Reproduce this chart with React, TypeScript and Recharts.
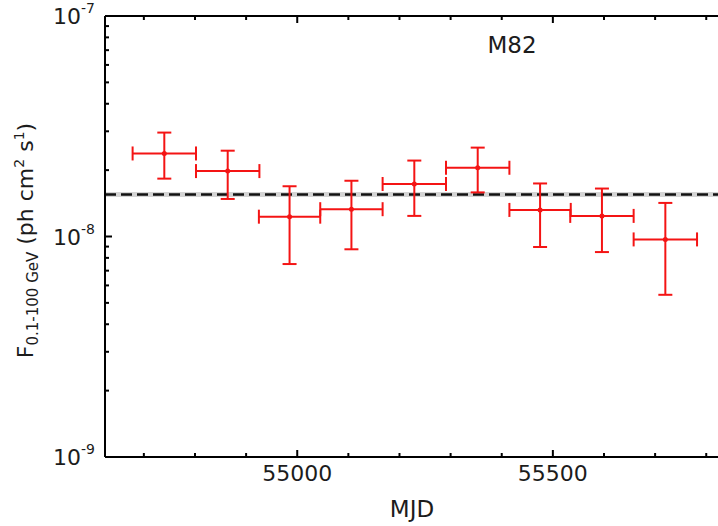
import { ScatterChart, Scatter, XAxis, YAxis, ErrorBar, ReferenceLine } from "recharts"

// light curve bins (MJD centre, half width of the bin)
const MJD = [54740, 54864, 54985, 55106, 55229, 55353, 55475, 55596, 55720]
const MJD_HALF = [62, 62, 60, 61, 62, 62, 60, 62, 62]

// flux F(0.1-100 GeV) in ph cm^-2 s^-1
const FLUX = [2.38e-8, 1.98e-8, 1.23e-8, 1.33e-8, 1.73e-8, 2.05e-8, 1.32e-8, 1.24e-8, 9.7e-9]
const FLUX_HI = [2.96e-8, 2.45e-8, 1.69e-8, 1.79e-8, 2.21e-8, 2.53e-8, 1.74e-8, 1.65e-8, 1.42e-8]
const FLUX_LO = [1.83e-8, 1.48e-8, 7.5e-9, 8.75e-9, 1.24e-8, 1.585e-8, 8.96e-9, 8.5e-9, 5.44e-9]
const MEAN_FLUX = 1.55e-8

const X_TICKS = [54700, 54800, 54900, 55000, 55100, 55200, 55300, 55400, 55500, 55600, 55700, 55800]
const X_LABELED = [55000, 55500]
const Y_TICKS = [
    1e-9, 2e-9, 3e-9, 4e-9, 5e-9, 6e-9, 7e-9, 8e-9, 9e-9,
    1e-8, 2e-8, 3e-8, 4e-8, 5e-8, 6e-8, 7e-8, 8e-8, 9e-8, 1e-7,
]
const Y_LABELED = [1e-9, 1e-8, 1e-7]

const RED = "#f41414"
const INK = "#1c1c1c"

const data = MJD.map((m, i) => ({
    mjd: m,
    flux: FLUX[i],
    xErr: [MJD_HALF[i], MJD_HALF[i]],
    yErr: [FLUX[i] - FLUX_LO[i], FLUX_HI[i] - FLUX[i]],
}))

function BottomTick(props: any) {
    const { x, y, payload } = props
    const major = X_LABELED.includes(payload.value)
    return (
        <g>
            <line x1={x} x2={x} y1={y} y2={y - (major ? 7 : 4)} stroke="#000" strokeWidth={2} />
            {major && (
                <text x={x} y={y + 24} textAnchor="middle" fontSize={22} fill={INK}>
                    {payload.value}
                </text>
            )}
        </g>
    )
}

function TopTick(props: any) {
    const { x, y, payload } = props
    const major = X_LABELED.includes(payload.value)
    return <line x1={x} x2={x} y1={y} y2={y + (major ? 7 : 4)} stroke="#000" strokeWidth={2} />
}

function LeftTick(props: any) {
    const { x, y, payload } = props
    const v = payload.value
    const major = Y_LABELED.includes(v)
    const exp = Math.round(Math.log10(v))
    return (
        <g>
            <line x1={x} x2={x + (major ? 7 : 4)} y1={y} y2={y} stroke="#000" strokeWidth={2} />
            {major && (
                <text x={x - 10} y={y + 8} textAnchor="end" fontSize={22} fill={INK}>
                    10
                    <tspan dy={-11} fontSize={14}>{String(exp)}</tspan>
                </text>
            )}
        </g>
    )
}

function YTitle(props: any) {
    const vb = props.viewBox
    const cx = vb.x + 33
    const cy = vb.y + vb.height / 2 + 4
    return (
        <text transform={`translate(${cx},${cy}) rotate(-90)`} textAnchor="middle" fontSize={22} fill={INK}>
            F
            <tspan fontSize={15} dy={5}>0.1-100 GeV</tspan>
            <tspan dy={-5}> (ph cm</tspan>
            <tspan fontSize={14} dy={-9}>2</tspan>
            <tspan dy={9}> s</tspan>
            <tspan fontSize={14} dy={-9}>1</tspan>
            <tspan dy={9}>)</tspan>
        </text>
    )
}

function XTitle(props: any) {
    const vb = props.viewBox
    return (
        <text x={412} y={vb.y + 60} textAnchor="middle" fontSize={23} fill={INK}>
            MJD
        </text>
    )
}

function SourceName() {
    return (
        <text x={512} y={53} textAnchor="middle" fontSize={23} fill={INK}>
            M82
        </text>
    )
}

const dot = (p: any) => <circle cx={p.cx} cy={p.cy} r={2.5} fill={RED} />
const nothing = () => <g />

export default function App() {
    return (
        <div style={{ position: "absolute", left: 0, top: 0, width: 718, height: 526, fontFamily: "'DejaVu Sans', sans-serif", background: "#fff" }}>
            <ScatterChart width={718} height={526} margin={{ top: 15, right: 0, bottom: 0, left: 0 }}>
                <XAxis
                    dataKey="mjd"
                    type="number"
                    domain={[54624, 55823]}
                    allowDataOverflow
                    ticks={X_TICKS}
                    interval={0}
                    height={69}
                    tickSize={0}
                    tickMargin={0}
                    tickLine={false}
                    tick={<BottomTick />}
                    axisLine={{ stroke: "#000", strokeWidth: 2 }}
                    label={<XTitle />}
                />
                <XAxis
                    xAxisId="top"
                    dataKey="mjd"
                    orientation="top"
                    type="number"
                    domain={[54624, 55823]}
                    allowDataOverflow
                    ticks={X_TICKS}
                    interval={0}
                    height={1}
                    tickSize={0}
                    tickMargin={0}
                    tickLine={false}
                    tick={<TopTick />}
                    axisLine={{ stroke: "#000", strokeWidth: 2 }}
                    label={<SourceName />}
                />
                <YAxis
                    dataKey="flux"
                    type="number"
                    scale="log"
                    domain={[1e-9, 1e-7]}
                    allowDataOverflow
                    ticks={Y_TICKS}
                    interval={0}
                    width={105}
                    tickSize={0}
                    tickMargin={0}
                    tickLine={false}
                    tick={<LeftTick />}
                    axisLine={{ stroke: "#000", strokeWidth: 2 }}
                    label={<YTitle />}
                />
                <ReferenceLine y={MEAN_FLUX} stroke="#d4d4d4" strokeWidth={5} />
                <ReferenceLine y={MEAN_FLUX} stroke="#111" strokeWidth={2.5} strokeDasharray="11 5" />
                <Scatter data={data} xAxisId="top" shape={nothing} isAnimationActive={false} />
                <Scatter data={data} fill={RED} shape={dot} isAnimationActive={false}>
                    <ErrorBar dataKey="xErr" direction="x" width={7} stroke={RED} strokeWidth={2} isAnimationActive={false} />
                    <ErrorBar dataKey="yErr" direction="y" width={7} stroke={RED} strokeWidth={2} isAnimationActive={false} />
                </Scatter>
            </ScatterChart>
        </div>
    )
}
